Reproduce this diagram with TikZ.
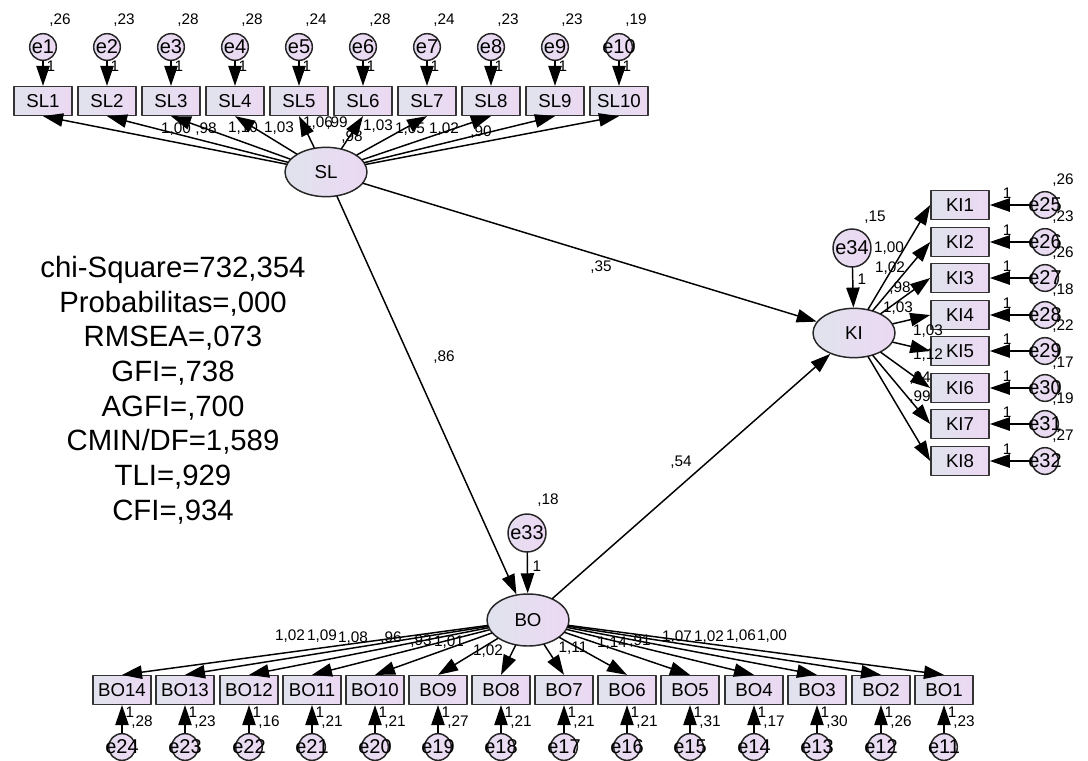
\documentclass[tikz,border=0pt]{standalone}
\usepackage{fontspec}
\setmainfont{Liberation Sans}
\usetikzlibrary{arrows.meta,positioning,shapes.geometric}
\definecolor{amosA}{RGB}{224,227,237}
\definecolor{amosB}{RGB}{236,216,243}
\newcommand{\nw}[1]{\makebox[0pt]{#1}}

\begin{document}
\begin{tikzpicture}[x=0.75pt,y=-0.75pt,line cap=round,line join=round,
  ind/.style={rectangle,draw=black!80,line width=1.2pt,left color=amosA,right color=amosB,minimum width=43.5pt,minimum height=21.5pt,inner sep=0pt,font=\fontsize{14}{16}\selectfont},
  lat/.style={ellipse,draw=black!85,line width=1.1pt,left color=amosA,right color=amosB,minimum width=61.5pt,minimum height=37pt,inner sep=0pt,font=\fontsize{14}{16}\selectfont},
  err/.style={circle,draw=black!85,line width=1.1pt,left color=amosA!50!amosB,right color=amosB,minimum size=20pt,inner sep=0pt,font=\fontsize{15}{17}\selectfont},
  bigerr/.style={err,minimum size=28.5pt,font=\fontsize{15}{17}\selectfont},
  est/.style={font=\fontsize{11.5}{13}\selectfont,inner sep=0pt},
  arr/.style={-{Triangle[length=15pt,width=10pt]},line width=1.1pt,black}]
\path[use as bounding box] (0,0) rectangle (1088,760);
% fit indices
\node[font=\fontsize{22}{26}\selectfont,align=center,inner sep=0pt] (fit) at (173,390) {chi-Square=732,354\\Probabilitas=,000\\RMSEA=,073\\GFI=,738\\AGFI=,700\\CMIN/DF=1,589\\TLI=,929\\CFI=,934};
% latent variables
\node[lat] (SL) at (326,172) {SL};
\node[lat] (KI) at (854,333) {KI};
\node[lat,minimum height=39pt] (BO) at (528,620) {BO};
\node[bigerr] (e34) at (852,248) {\nw{e34}};
\node[bigerr] (e33) at (527,533) {\nw{e33}};
\node[est] (ve34) at (875,217) {,15};
\node[est] (ve33) at (548,500) {,18};
\node[est] (oe34) at (862,279) {1};
\node[est] (oe33) at (537,566) {1};
% SL indicators
\node[ind] (SL1) at (43,101) {SL1};
\node[ind] (SL2) at (107,101) {SL2};
\node[ind] (SL3) at (171,101) {SL3};
\node[ind] (SL4) at (235,101) {SL4};
\node[ind] (SL5) at (299,101) {SL5};
\node[ind] (SL6) at (363,101) {SL6};
\node[ind] (SL7) at (427,101) {SL7};
\node[ind] (SL8) at (491,101) {SL8};
\node[ind] (SL9) at (555,101) {SL9};
\node[ind] (SL10) at (619,101) {SL10};
\node[err] (e1) at (43,47) {\nw{e1}};
\node[err] (e2) at (107,47) {\nw{e2}};
\node[err] (e3) at (171,47) {\nw{e3}};
\node[err] (e4) at (235,47) {\nw{e4}};
\node[err] (e5) at (299,47) {\nw{e5}};
\node[err] (e6) at (363,47) {\nw{e6}};
\node[err] (e7) at (427,47) {\nw{e7}};
\node[err] (e8) at (491,47) {\nw{e8}};
\node[err] (e9) at (555,47) {\nw{e9}};
\node[err] (e10) at (619,47) {\nw{e10}};
\node[est] (ve1) at (60,20) {,26};
\node[est] (ve2) at (124,20) {,23};
\node[est] (ve3) at (188,20) {,28};
\node[est] (ve4) at (252,20) {,28};
\node[est] (ve5) at (316,20) {,24};
\node[est] (ve6) at (380,20) {,28};
\node[est] (ve7) at (444,20) {,24};
\node[est] (ve8) at (508,20) {,23};
\node[est] (ve9) at (572,20) {,23};
\node[est] (ve10) at (636,20) {,19};
\node[est] (oe1) at (51,66) {1};
\node[est] (oe2) at (115,66) {1};
\node[est] (oe3) at (179,66) {1};
\node[est] (oe4) at (243,66) {1};
\node[est] (oe5) at (307,66) {1};
\node[est] (oe6) at (371,66) {1};
\node[est] (oe7) at (435,66) {1};
\node[est] (oe8) at (499,66) {1};
\node[est] (oe9) at (563,66) {1};
\node[est] (oe10) at (627,66) {1};
\node[est] (wsl1) at (176,129) {1,00};
\node[est] (wsl2) at (206,129) {,98};
\node[est] (wsl3) at (243,128) {1,10};
\node[est] (wsl4) at (279,128) {1,03};
\node[est] (wsl5) at (318,123) {1,06};
\node[est] (wsl6) at (337,123) {,99};
\node[est] (wsl7) at (352,137) {,98};
\node[est] (wsl8) at (378,126) {1,03};
\node[est] (wsl9) at (410,129) {1,05};
\node[est] (wsl10) at (444,129) {1,02};
\node[est] (wsl11) at (481,132) {,90};
% KI indicators
\node[ind] (KI1) at (960,205) {KI1};
\node[ind] (KI2) at (960,242) {KI2};
\node[ind] (KI3) at (960,278) {KI3};
\node[ind] (KI4) at (960,315) {KI4};
\node[ind] (KI5) at (960,351) {KI5};
\node[ind] (KI6) at (960,388) {KI6};
\node[ind] (KI7) at (960,424) {KI7};
\node[ind] (KI8) at (960,461) {KI8};
\node[err] (e25) at (1045,205) {\nw{e25}};
\node[err] (e26) at (1045,242) {\nw{e26}};
\node[err] (e27) at (1045,278) {\nw{e27}};
\node[err] (e28) at (1045,315) {\nw{e28}};
\node[err] (e29) at (1045,351) {\nw{e29}};
\node[err] (e30) at (1045,388) {\nw{e30}};
\node[err] (e31) at (1045,424) {\nw{e31}};
\node[err] (e32) at (1045,461) {\nw{e32}};
\node[est] (ve25) at (1063,180) {,26};
\node[est] (ve26) at (1063,217) {,23};
\node[est] (ve27) at (1063,253) {,26};
\node[est] (ve28) at (1063,290) {,18};
\node[est] (ve29) at (1063,326) {,22};
\node[est] (ve30) at (1063,363) {,17};
\node[est] (ve31) at (1063,399) {,19};
\node[est] (ve32) at (1063,436) {,27};
\node[est] (oe25) at (1007,193) {1};
\node[est] (oe26) at (1007,230) {1};
\node[est] (oe27) at (1007,266) {1};
\node[est] (oe28) at (1007,303) {1};
\node[est] (oe29) at (1007,339) {1};
\node[est] (oe30) at (1007,376) {1};
\node[est] (oe31) at (1007,412) {1};
\node[est] (oe32) at (1007,449) {1};
\node[est] (wki1) at (889,248) {1,00};
\node[est] (wki2) at (890,268) {1,02};
\node[est] (wki3) at (900,288) {,98};
\node[est] (wki4) at (898,308) {1,03};
\node[est] (wki5) at (928,331) {1,03};
\node[est] (wki6) at (928,355) {1,12};
\node[est] (wki7) at (920,378) {,94};
\node[est] (wki8) at (920,397) {,99};
% BO indicators
\node[ind] (BO1) at (944,690) {BO1};
\node[ind] (BO2) at (881,690) {BO2};
\node[ind] (BO3) at (817,690) {BO3};
\node[ind] (BO4) at (754,690) {BO4};
\node[ind] (BO5) at (690,690) {BO5};
\node[ind] (BO6) at (627,690) {BO6};
\node[ind] (BO7) at (564,690) {BO7};
\node[ind] (BO8) at (501,690) {BO8};
\node[ind] (BO9) at (438,690) {BO9};
\node[ind] (BO10) at (375,690) {BO10};
\node[ind] (BO11) at (312,690) {BO11};
\node[ind] (BO12) at (249,690) {BO12};
\node[ind] (BO13) at (185,690) {BO13};
\node[ind] (BO14) at (122,690) {BO14};
\node[err] (e11) at (944,747) {\nw{e11}};
\node[err] (e12) at (881,747) {\nw{e12}};
\node[err] (e13) at (817,747) {\nw{e13}};
\node[err] (e14) at (754,747) {\nw{e14}};
\node[err] (e15) at (690,747) {\nw{e15}};
\node[err] (e16) at (627,747) {\nw{e16}};
\node[err] (e17) at (564,747) {\nw{e17}};
\node[err] (e18) at (501,747) {\nw{e18}};
\node[err] (e19) at (438,747) {\nw{e19}};
\node[err] (e20) at (375,747) {\nw{e20}};
\node[err] (e21) at (312,747) {\nw{e21}};
\node[err] (e22) at (249,747) {\nw{e22}};
\node[err] (e23) at (185,747) {\nw{e23}};
\node[err] (e24) at (122,747) {\nw{e24}};
\node[est] (ve11) at (964,722) {,23};
\node[est] (ve12) at (901,722) {,26};
\node[est] (ve13) at (837,722) {,30};
\node[est] (ve14) at (774,722) {,17};
\node[est] (ve15) at (710,722) {,31};
\node[est] (ve16) at (647,722) {,21};
\node[est] (ve17) at (584,722) {,21};
\node[est] (ve18) at (521,722) {,21};
\node[est] (ve19) at (458,722) {,27};
\node[est] (ve20) at (395,722) {,21};
\node[est] (ve21) at (332,722) {,21};
\node[est] (ve22) at (269,722) {,16};
\node[est] (ve23) at (205,722) {,23};
\node[est] (ve24) at (142,722) {,28};
\node[est] (oe11) at (952,712) {1};
\node[est] (oe12) at (889,712) {1};
\node[est] (oe13) at (825,712) {1};
\node[est] (oe14) at (762,712) {1};
\node[est] (oe15) at (698,712) {1};
\node[est] (oe16) at (635,712) {1};
\node[est] (oe17) at (572,712) {1};
\node[est] (oe18) at (509,712) {1};
\node[est] (oe19) at (446,712) {1};
\node[est] (oe20) at (383,712) {1};
\node[est] (oe21) at (320,712) {1};
\node[est] (oe22) at (257,712) {1};
\node[est] (oe23) at (193,712) {1};
\node[est] (oe24) at (130,712) {1};
\node[est] (wbo14) at (290,636) {1,02};
\node[est] (wbo13) at (322,636) {1,09};
\node[est] (wbo12) at (353,638) {1,08};
\node[est] (wbo11) at (391,638) {,96};
\node[est] (wbo10) at (421,641) {,93};
\node[est] (wbo9) at (449,642) {1,01};
\node[est] (wbo8) at (488,651) {1,02};
\node[est] (wbo7) at (573,648) {1,11};
\node[est] (wbo6) at (612,643) {1,14};
\node[est] (wbo5) at (640,641) {,91};
\node[est] (wbo4) at (677,637) {1,07};
\node[est] (wbo3) at (709,637) {1,02};
\node[est] (wbo2) at (741,636) {1,06};
\node[est] (wbo1) at (772,636) {1,00};
% structural weights
\node[est] (wslki) at (601,267) {,35};
\node[est] (wslbo) at (444,357) {,86};
\node[est] (wboki) at (681,462) {,54};
% paths
\draw[arr] (SL) -- (KI);
\draw[arr] (SL) -- (BO);
\draw[arr] (BO) -- (KI);
\draw[arr] (e34) -- (KI);
\draw[arr] (e33) -- (BO);
\draw[arr] (SL) -- (SL1.south);
\draw[arr] (SL) -- (SL2.south);
\draw[arr] (SL) -- (SL3.south);
\draw[arr] (SL) -- (SL4.south);
\draw[arr] (SL) -- (SL5.south);
\draw[arr] (SL) -- (SL6.south);
\draw[arr] (SL) -- (SL7.south);
\draw[arr] (SL) -- (SL8.south);
\draw[arr] (SL) -- (SL9.south);
\draw[arr] (SL) -- (SL10.south);
\draw[arr] (e1) -- (SL1);
\draw[arr] (e2) -- (SL2);
\draw[arr] (e3) -- (SL3);
\draw[arr] (e4) -- (SL4);
\draw[arr] (e5) -- (SL5);
\draw[arr] (e6) -- (SL6);
\draw[arr] (e7) -- (SL7);
\draw[arr] (e8) -- (SL8);
\draw[arr] (e9) -- (SL9);
\draw[arr] (e10) -- (SL10);
\draw[arr] (KI) -- (KI1.west);
\draw[arr] (KI) -- (KI2.west);
\draw[arr] (KI) -- (KI3.west);
\draw[arr] (KI) -- (KI4.west);
\draw[arr] (KI) -- (KI5.west);
\draw[arr] (KI) -- (KI6.west);
\draw[arr] (KI) -- (KI7.west);
\draw[arr] (KI) -- (KI8.west);
\draw[arr] (e25) -- (KI1);
\draw[arr] (e26) -- (KI2);
\draw[arr] (e27) -- (KI3);
\draw[arr] (e28) -- (KI4);
\draw[arr] (e29) -- (KI5);
\draw[arr] (e30) -- (KI6);
\draw[arr] (e31) -- (KI7);
\draw[arr] (e32) -- (KI8);
\draw[arr] (BO) -- (BO1.north);
\draw[arr] (BO) -- (BO2.north);
\draw[arr] (BO) -- (BO3.north);
\draw[arr] (BO) -- (BO4.north);
\draw[arr] (BO) -- (BO5.north);
\draw[arr] (BO) -- (BO6.north);
\draw[arr] (BO) -- (BO7.north);
\draw[arr] (BO) -- (BO8.north);
\draw[arr] (BO) -- (BO9.north);
\draw[arr] (BO) -- (BO10.north);
\draw[arr] (BO) -- (BO11.north);
\draw[arr] (BO) -- (BO12.north);
\draw[arr] (BO) -- (BO13.north);
\draw[arr] (BO) -- (BO14.north);
\draw[arr] (e11) -- (BO1);
\draw[arr] (e12) -- (BO2);
\draw[arr] (e13) -- (BO3);
\draw[arr] (e14) -- (BO4);
\draw[arr] (e15) -- (BO5);
\draw[arr] (e16) -- (BO6);
\draw[arr] (e17) -- (BO7);
\draw[arr] (e18) -- (BO8);
\draw[arr] (e19) -- (BO9);
\draw[arr] (e20) -- (BO10);
\draw[arr] (e21) -- (BO11);
\draw[arr] (e22) -- (BO12);
\draw[arr] (e23) -- (BO13);
\draw[arr] (e24) -- (BO14);
\end{tikzpicture}
\end{document}
